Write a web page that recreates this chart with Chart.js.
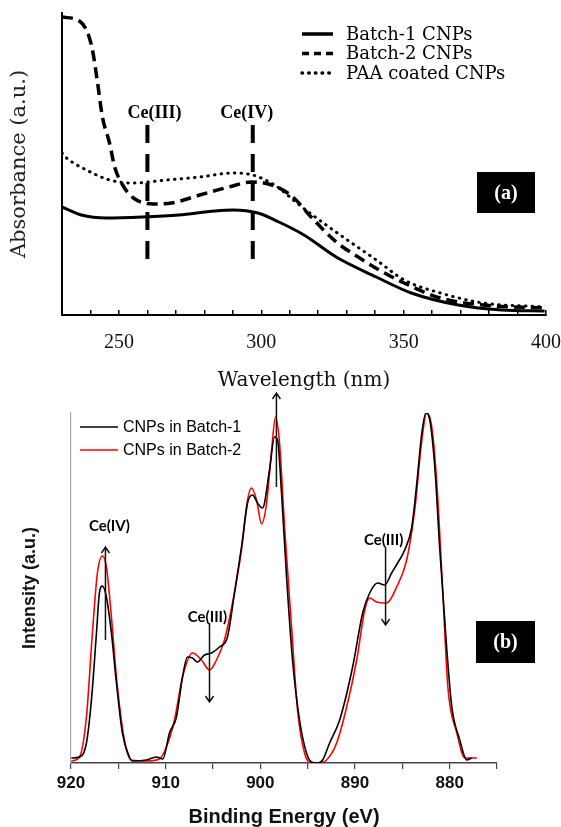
<!DOCTYPE html>
<html>
<head>
<meta charset="utf-8">
<script src="https://cdn.jsdelivr.net/npm/chart.js@4.4.1/dist/chart.umd.min.js"></script>
<style>
  html, body { margin: 0; padding: 0; background: #fff; }
  #wrap { position: relative; width: 561px; height: 827px; }
  #uv { position: absolute; left: 0; top: 0; }
  #xps { position: absolute; left: 0; top: 385px; }
</style>
</head>
<body>
<div id="wrap">
  <canvas id="uv" width="561" height="395" style="width:561px;height:395px"></canvas>
  <canvas id="xps" width="561" height="442" style="width:561px;height:442px"></canvas>
</div>
<script>
// (a) UV-vis absorbance, arbitrary units
const uvWl1 = [230, 236.8, 245.6, 258.3, 271, 283.7, 290, 298.8, 306.2, 315, 326.3, 340.4, 352.7, 369.2, 384.4, 399.5];
const uvBatch1 = [108, 100, 97, 98, 100, 104, 105, 102, 93, 80, 58, 38, 22, 10, 5, 4];

const uvWl2 = [230, 236.1, 238.9, 240.7, 242.5, 244.2, 246.7, 248.5, 251.3, 255.1, 262.2, 268.5, 278.4,
               288.6, 296.7, 303.7, 311.1, 317.5, 326.3, 334, 341.4, 350.2, 362.9, 378, 399.5];
const uvBatch2 = [298, 294, 283, 265, 232, 198, 172, 148, 130, 117, 111, 112, 120,
                  128, 133, 130, 118, 98, 73, 58, 45, 32, 17, 10, 7];

const uvWl3 = [230, 231.6, 238.6, 246.7, 254.8, 266.8, 278.4, 290, 297, 304.1, 306.2, 312.5,
               318.9, 328.7, 340.4, 350.2, 362.9, 378, 399.5];
const uvPaa = [162, 157, 145, 135, 132, 135, 138, 142, 140, 131, 127, 112,
               98, 78, 55, 35, 22, 12, 8];

const uvLabels = ['Batch-1 CNPs', 'Batch-2 CNPs', 'PAA coated CNPs'];
const ceLineWl = [260, 297];
const ceLineSpan = [190, 55];
const ceTextWl = [262.5, 294.9];
const ceTextY = 202;
const ceText = ['Ce(III)', 'Ce(IV)'];

// (b) XPS Ce 3d
const xpsE1 = [919.96, 919.11, 918.37, 917.84, 917.31, 917.0, 916.68, 916.26, 915.73, 915.2,
               914.57, 913.83, 913.51, 912.03, 910.97, 910.3, 909.6, 908.86, 908.22, 907.7,
               907.17, 906.64, 905.9, 905.16, 904.31, 903.47, 902.73, 901.99, 901.35, 900.82,
               900.3, 899.77, 899.03, 898.5, 898.18, 897.76, 897.23, 896.6, 895.86, 895.12,
               894.59, 893.95, 893.42, 892.68, 891.62, 890.25, 889.19, 888.45, 887.61, 886.87,
               886.13, 885.49, 884.75, 884.0, 883.47, 882.94, 882.52, 882.1, 881.57, 881.04,
               880.3, 879.77, 878.93, 878.19, 877.66];
const xpsBatch1 = [5, 6, 20, 63, 130, 170, 177, 166, 130, 80,
                   30, 6, 2, 3, 6, 4, 30, 46, 86, 106,
                   105, 101, 108, 110, 116, 126, 170, 216, 260, 268,
                   260, 255, 293, 326, 323, 270, 186, 103, 43, 10,
                   1, 0, 3, 20, 43, 96, 150, 170, 180, 178,
                   190, 200, 213, 236, 280, 330, 350, 343, 296, 213,
                   113, 56, 23, 3, 5];

const xpsE2 = [919.96, 919.11, 918.37, 917.74, 917.21, 916.68, 916.26, 915.73, 915.2, 914.36,
               913.62, 912.03, 910.66, 909.92, 909.07, 908.22, 907.17, 906.22, 905.37, 904.63,
               903.79, 902.94, 901.99, 901.35, 900.93, 900.4, 899.87, 899.34, 898.81, 898.39,
               897.97, 897.44, 896.7, 896.07, 895.33, 894.59, 893.95, 893.0, 891.94, 890.88,
               889.82, 888.97, 888.45, 887.71, 886.65, 885.6, 884.54, 883.69, 882.94, 882.42,
               881.89, 881.36, 880.72, 880.19, 879.24, 878.4, 877.13];
const xpsBatch2 = [2, 6, 46, 130, 190, 207, 196, 146, 86, 23,
                   3, 2, 4, 16, 43, 86, 110, 103, 93, 103,
                   123, 160, 213, 263, 275, 263, 239, 260, 313, 346,
                   320, 236, 136, 53, 10, 0, 0, 3, 20, 56,
                   103, 153, 165, 161, 160, 176, 203, 253, 323, 350,
                   336, 280, 170, 76, 30, 5, 5];

const xpsLabels = ['CNPs in Batch-1', 'CNPs in Batch-2'];
// arrows: energy, start intensity, end intensity, label, label energy, label intensity
const arrowE = [916.36, 905.37, 886.77, 898.3];
const arrowFrom = [123, 140, 216, 276];
const arrowTo = [216, 61, 138, 370];
const arrowText = ['Ce(IV)', 'Ce(III)', 'Ce(III)', ''];
const arrowTextE = [915.94, 905.58, 886.98, 898.3];
const arrowTextY = [237, 146, 223, 0];

const pts = (xs, ys) => xs.map((x, i) => ({ x, y: ys[i] }));

// legend drawn inside the plot, as a stack of line samples
function lineLegend(o) {
  return {
    id: 'lineLegend',
    afterDraw(chart) {
      const ctx = chart.ctx;
      ctx.save();
      ctx.font = o.font;
      ctx.textBaseline = 'middle';
      let y = o.y;
      chart.data.datasets.forEach(ds => {
        if (!ds.label) return;
        ctx.beginPath();
        ctx.strokeStyle = ds.borderColor;
        ctx.lineWidth = o.lineWidth || ds.borderWidth;
        ctx.lineCap = ds.borderCapStyle || 'butt';
        ctx.setLineDash(ds.legendDash || ds.borderDash || []);
        ctx.moveTo(o.x, y);
        ctx.lineTo(o.x + o.length, y);
        ctx.stroke();
        ctx.setLineDash([]);
        ctx.fillStyle = '#000';
        ctx.fillText(ds.label, o.x + o.length + o.gap, y + (o.textDy || 0));
        y += o.row;
      });
      ctx.restore();
    }
  };
}

function panelTag(o) {
  return {
    id: 'panelTag',
    afterDraw(chart) {
      const ctx = chart.ctx;
      ctx.save();
      ctx.fillStyle = '#000';
      ctx.fillRect(o.x, o.y, o.w, o.h);
      ctx.fillStyle = '#fff';
      ctx.font = o.font;
      ctx.textAlign = 'center';
      ctx.textBaseline = 'middle';
      ctx.fillText(o.text, o.x + o.w / 2, o.y + o.h / 2 + 1);
      ctx.restore();
    }
  };
}

const ceTextPlugin = {
  id: 'ceText',
  afterDatasetsDraw(chart) {
    const { ctx, scales: { x, y } } = chart;
    ctx.save();
    ctx.font = 'bold 18px "Liberation Serif"';
    ctx.fillStyle = '#000';
    ctx.textAlign = 'center';
    ctx.textBaseline = 'middle';
    ceText.forEach((t, i) => ctx.fillText(t, x.getPixelForValue(ceTextWl[i]), y.getPixelForValue(ceTextY)));
    ctx.restore();
  }
};

const arrowPlugin = {
  id: 'arrows',
  afterDatasetsDraw(chart) {
    const { ctx, scales: { x, y } } = chart;
    ctx.save();
    ctx.strokeStyle = '#111';
    ctx.fillStyle = '#000';
    ctx.lineWidth = 1.5;
    arrowE.forEach((e, i) => {
      const px = x.getPixelForValue(e);
      const y0 = y.getPixelForValue(arrowFrom[i]);
      const y1 = y.getPixelForValue(arrowTo[i]);
      const dir = y1 < y0 ? 1 : -1;
      ctx.beginPath();
      ctx.moveTo(px, y0);
      ctx.lineTo(px, y1);
      ctx.moveTo(px - 4, y1 + dir * 6);
      ctx.lineTo(px, y1);
      ctx.lineTo(px + 4, y1 + dir * 6);
      ctx.stroke();
      if (arrowText[i]) {
        ctx.font = 'bold 15px Lato';
        ctx.textAlign = 'center';
        ctx.textBaseline = 'middle';
        ctx.fillText(arrowText[i], x.getPixelForValue(arrowTextE[i]), y.getPixelForValue(arrowTextY[i]));
      }
    });
    ctx.restore();
  }
};

// keep the plot box where the picture has it: ignore the extra room Chart.js asks for the edge labels
const fixX = h => axis => { axis.height = h; axis.paddingLeft = 0; axis.paddingRight = 0; };

new Chart(document.getElementById('uv'), {
  type: 'line',
  data: {
    datasets: [
      { label: uvLabels[0], data: pts(uvWl1, uvBatch1), borderColor: '#000', borderWidth: 3,
        cubicInterpolationMode: 'monotone', pointRadius: 0 },
      { label: uvLabels[1], data: pts(uvWl2, uvBatch2), borderColor: '#000', borderWidth: 3.5,
        borderDash: [11, 6], legendDash: [7, 5], cubicInterpolationMode: 'monotone', pointRadius: 0 },
      { label: uvLabels[2], data: pts(uvWl3, uvPaa), borderColor: '#000', borderWidth: 3,
        borderDash: [0.5, 6.2], borderCapStyle: 'round', cubicInterpolationMode: 'monotone', pointRadius: 0 },
      { data: pts([ceLineWl[0], ceLineWl[0]], ceLineSpan), borderColor: '#000', borderWidth: 4,
        borderDash: [18, 11], pointRadius: 0 },
      { data: pts([ceLineWl[1], ceLineWl[1]], ceLineSpan), borderColor: '#000', borderWidth: 4,
        borderDash: [18, 11], pointRadius: 0 }
    ]
  },
  options: {
    responsive: false,
    animation: false,
    layout: { padding: { top: 13, right: 15, left: 0, bottom: 0 } },
    plugins: { legend: { display: false }, tooltip: { enabled: false } },
    scales: {
      x: {
        type: 'linear', min: 230, max: 400,
        afterFit: fixX(80),
        grid: { drawOnChartArea: false, tickLength: -5, color: '#000', tickColor: '#000', lineWidth: 1.5 },
        border: { color: '#000', width: 2 },
        ticks: {
          stepSize: 10, autoSkip: false, maxRotation: 0, padding: 21, color: '#111',
          font: { family: '"Liberation Serif"', size: 20 },
          callback: v => (v % 50 === 0 ? String(v) : '')
        },
        title: { display: true, text: 'Wavelength (nm)', color: '#111',
                 font: { family: '"DejaVu Serif"', size: 20, lineHeight: 1.2 }, padding: { top: 0, bottom: 2 } }
      },
      y: {
        min: 0, max: 302,
        afterFit: axis => { axis.width = 62; },
        grid: { display: false },
        border: { color: '#000', width: 2 },
        ticks: { display: false },
        title: { display: true, text: 'Absorbance (a.u.)', color: '#222',
                 font: { family: '"DejaVu Serif"', size: 21, lineHeight: 1.2 }, padding: { top: 7, bottom: 0 } }
      }
    }
  },
  plugins: [
    ceTextPlugin,
    lineLegend({ x: 302, y: 34, length: 31, gap: 13, row: 19.5, lineWidth: 3.5, font: '18px "DejaVu Serif"', textDy: 1 }),
    panelTag({ x: 477, y: 172, w: 58, h: 41, text: '(a)', font: 'bold 20px "Liberation Serif"' })
  ]
});

new Chart(document.getElementById('xps'), {
  type: 'line',
  data: {
    datasets: [
      { label: xpsLabels[0], data: pts(xpsE1, xpsBatch1), borderColor: '#000', borderWidth: 1.6,
        cubicInterpolationMode: 'monotone', pointRadius: 0 },
      { label: xpsLabels[1], data: pts(xpsE2, xpsBatch2), borderColor: '#ff0000', borderWidth: 1.6,
        cubicInterpolationMode: 'monotone', pointRadius: 0 }
    ]
  },
  options: {
    responsive: false,
    animation: false,
    layout: { padding: { top: 28, right: 64, left: 0, bottom: 0 } },
    plugins: { legend: { display: false }, tooltip: { enabled: false } },
    scales: {
      x: {
        type: 'linear', min: 875, max: 920, reverse: true,
        afterFit: fixX(64),
        grid: { drawOnChartArea: false, tickLength: 6, color: '#444', tickColor: '#444', lineWidth: 1.2 },
        border: { color: '#444', width: 1.5 },
        ticks: {
          stepSize: 5, autoSkip: false, maxRotation: 0, padding: 4, color: '#111',
          font: { family: '"Liberation Sans"', size: 17, weight: 'bold' },
          callback: v => (v % 10 === 0 ? String(v) : '')
        },
        title: { display: true, text: 'Binding Energy (eV)', color: '#111',
                 font: { family: '"Liberation Sans"', size: 20, weight: 'bold', lineHeight: 1 }, padding: 0 }
      },
      y: {
        min: 0, max: 350,
        afterFit: axis => { axis.width = 71; },
        grid: { display: false },
        border: { color: '#aaa', width: 1.2 },
        ticks: { display: false },
        title: { display: true, text: 'Intensity (a.u.)', color: '#111',
                 font: { family: '"Liberation Sans"', size: 18, weight: 'bold', lineHeight: 1.2 }, padding: { top: 19, bottom: 0 } }
      }
    }
  },
  plugins: [
    arrowPlugin,
    lineLegend({ x: 80, y: 42, length: 38, gap: 5, row: 23, font: '16px "Liberation Sans"', textDy: 1 }),
    panelTag({ x: 476, y: 236, w: 59, h: 42, text: '(b)', font: 'bold 20px "Liberation Serif"' })
  ]
});
</script>
</body>
</html>
